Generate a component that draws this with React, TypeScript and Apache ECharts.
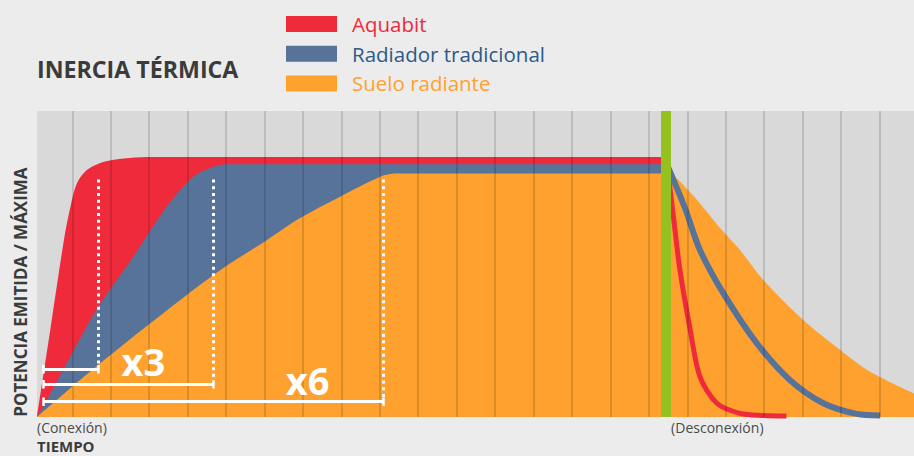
import React, { useEffect, useRef } from "react";
import * as echarts from "echarts";

// Time axis: t in grid units (Conexión at 0, Desconexión at 16.37). Value: % of plot height.
const X_MAX = 22.82;
const DISCONNECT_T = 16.37;
const GRID_T = [0.918, 1.918, 2.918, 3.918, 4.918, 5.918, 6.918, 7.918, 8.918, 9.918, 10.918, 11.918, 12.918, 13.918, 14.918, 15.918, 16.918, 17.918, 18.918, 19.918, 20.918, 21.918];

const SERIES_NAMES = ["Aquabit", "Radiador tradicional", "Suelo radiante"];
const SERIES_COLORS = ["#ee2a3b", "#57739a", "#ffa12e"];
const LEGEND_TEXT_COLORS = ["#ee2a3b", "#2b5a8b", "#ffa12e"];

const aquabitOn = [[0, 0], [0.34, 28], [0.7, 57.8], [0.87, 68.7], [1.04, 76.4], [1.3, 80.7], [1.74, 83.4], [2.26, 84.5], [2.86, 85], [16.37, 85]];
const radiadorOn = [[0, 0], [0.164, 3.4], [0.773, 17.6], [1.595, 36.0], [2.506, 52.4], [3.375, 68.7], [4.067, 78.5], [4.588, 81.8], [4.936, 82.6], [16.37, 82.6]];
const sueloAll = [[0, 0], [1.639, 17.5], [4.588, 46.4], [5.977, 57.8], [6.758, 64.4], [7.884, 72.0], [8.925, 78.5], [9.186, 79.4], [9.446, 79.6], [16.37, 79.6], [16.94, 74.2], [17.82, 61.1], [18.29, 54.6], [18.9, 44.8], [19.94, 31.7], [20.9, 21.9], [21.68, 14.8], [22.82, 7.7]];
const aquabitOff = [[16.4, 82], [16.56, 65.5], [16.73, 48], [16.99, 29], [17.25, 13.2], [17.69, 4.5], [18.29, 1.2], [18.9, 0.5], [19.5, 0.3]];
const radiadorOff = [[16.4, 82.3], [16.86, 68.3], [17.25, 54.6], [17.86, 40.4], [18.73, 24.1], [19.59, 12.1], [20.46, 4.5], [21.33, 1.0], [21.94, 0.5]];

// Annotations: time to reach max for each system, and ratio labels
const BRACKET_START = 0.164;
const DOTTED_TOP = 77.6;
const BRACKET_ENDS = [1.595, 4.588, 9.011];
const BRACKET_LEVELS = [15.6, 10.7, 5.0];
const RATIO_LABELS = [[2.766, 18.3, "x3"], [7.04, 12.2, "x6"]];

const X_LABELS = [[0, "(Conexión)"], [16.5, "(Desconexión)"]];

const FONT = "'Open Sans', 'Noto Sans', sans-serif";

export default function App() {
  const ref = useRef<HTMLDivElement>(null);

  useEffect(() => {
    if (!ref.current) return;
    const chart = echarts.init(ref.current, null, { renderer: "svg" });

    const white = "#ffffff";
    const annotationLines: any[] = [];
    BRACKET_ENDS.forEach((end, i) => {
      const lv = BRACKET_LEVELS[i];
      annotationLines.push([
        { coord: [end, DOTTED_TOP], lineStyle: { color: white, width: 3, type: [3, 3.7] } },
        { coord: [end, lv + 1.4] },
      ]);
      annotationLines.push([
        { coord: [BRACKET_START, lv], lineStyle: { color: white, width: 3, type: "solid" } },
        { coord: [end, lv] },
      ]);
      annotationLines.push([
        { coord: [BRACKET_START, lv - 1.4], lineStyle: { color: white, width: 2.5, type: "solid" } },
        { coord: [BRACKET_START, lv + 1.4] },
      ]);
      annotationLines.push([
        { coord: [end, lv - 1.4], lineStyle: { color: white, width: 2.5, type: "solid" } },
        { coord: [end, lv + 1.4] },
      ]);
    });

    const areaSeries = (name: string, data: number[][], color: string) => ({
      name,
      type: "line",
      data,
      smooth: 0.3,
      showSymbol: false,
      symbol: "none",
      itemStyle: { color },
      lineStyle: { width: 0, color },
      areaStyle: { color, opacity: 1 },
      silent: true,
    });

    const decaySeries = (name: string, data: number[][], color: string, width: number) => ({
      name,
      type: "line",
      data,
      smooth: 0.3,
      showSymbol: false,
      symbol: "none",
      lineStyle: { width, color },
      itemStyle: { color },
      silent: true,
    });

    const option: any = {
      animation: false,
      backgroundColor: "#ececec",
      textStyle: { fontFamily: FONT },
      grid: { left: 37, right: 0, top: 111, bottom: 39, show: true, backgroundColor: "#d9d9d9", borderWidth: 0 },
      legend: {
        orient: "vertical",
        left: 286,
        top: 13.5,
        itemWidth: 51,
        itemHeight: 16,
        itemGap: 8.7,
        icon: "rect",
        selectedMode: false,
        padding: 0,
        itemStyle: { borderWidth: 0 },
        textStyle: { fontSize: 20.5, fontFamily: FONT, padding: [0, 0, 0, 10] },
        data: SERIES_NAMES.map((n, i) => ({ name: n, textStyle: { color: LEGEND_TEXT_COLORS[i] } })),
      },
      xAxis: {
        type: "value",
        min: 0,
        max: X_MAX,
        axisLine: { show: false },
        axisTick: { show: false },
        splitLine: { show: false },
        axisLabel: {
          show: true,
          customValues: X_LABELS.map((l) => l[0]),
          formatter: (v: number) => {
            const f = X_LABELS.find((l) => Math.abs((l[0] as number) - v) < 1e-6);
            return f ? (f[1] as string) : "";
          },
          align: "left",
          margin: 3,
          fontSize: 14,
          color: "#4a4a4a",
          fontFamily: FONT,
        },
      },
      yAxis: { type: "value", min: 0, max: 100, show: false },
      graphic: [
        {
          type: "text",
          left: 37,
          top: 57,
          style: { text: "INERCIA TÉRMICA", fontSize: 23.2, fontWeight: "bold", fill: "#3b3b3b", fontFamily: FONT },
        },
        {
          type: "text",
          x: 20,
          y: 416.7,
          rotation: Math.PI / 2,
          style: {
            text: "POTENCIA EMITIDA / MÁXIMA",
            fontSize: 17,
            fontWeight: "bold",
            fill: "#3b3b3b",
            fontFamily: FONT,
            textAlign: "left",
            textVerticalAlign: "middle",
          },
        },
        {
          type: "text",
          x: 37,
          y: 445.8,
          style: {
            text: "TIEMPO",
            fontSize: 15,
            fontWeight: "bold",
            fill: "#3b3b3b",
            fontFamily: FONT,
            textAlign: "left",
            textVerticalAlign: "middle",
          },
        },
      ],
      series: [
        areaSeries(SERIES_NAMES[0], aquabitOn, SERIES_COLORS[0]),
        areaSeries(SERIES_NAMES[1], radiadorOn, SERIES_COLORS[1]),
        {
          ...areaSeries(SERIES_NAMES[2], sueloAll, SERIES_COLORS[2]),
          markLine: {
            silent: true,
            symbol: ["none", "none"],
            z: 5,
            label: { show: false },
            lineStyle: { color: "rgba(0,0,0,0.18)", width: 1.5, type: "solid" },
            data: GRID_T.map((t) => ({ xAxis: t })),
          },
        },
        decaySeries("Aquabit (desconexión)", aquabitOff, SERIES_COLORS[0], 5),
        {
          ...decaySeries("Radiador tradicional (desconexión)", radiadorOff, SERIES_COLORS[1], 6),
          markLine: {
            silent: true,
            symbol: ["none", "none"],
            z: 6,
            label: { show: false },
            lineStyle: { color: "#95c11f", width: 10, type: "solid" },
            data: [{ xAxis: DISCONNECT_T }],
          },
        },
        {
          name: "Anotaciones",
          type: "scatter",
          data: RATIO_LABELS,
          symbolSize: 0,
          itemStyle: { color: "#ffffff", opacity: 1 },
          silent: true,
          z: 10,
          label: {
            show: true,
            position: "inside",
            formatter: (p: any) => p.data[2],
            color: "#ffffff",
            opacity: 1,
            fontSize: 38,
            fontWeight: "bold",
            fontFamily: FONT,
          },
          markLine: {
            silent: true,
            symbol: ["none", "none"],
            z: 7,
            label: { show: false },
            data: annotationLines,
          },
        },
      ],
    };

    chart.setOption(option);
    return () => chart.dispose();
  }, []);

  return (
    <div
      ref={ref}
      style={{ position: "fixed", left: 0, top: 0, width: 914, height: 456, background: "#ececec" }}
    />
  );
}
